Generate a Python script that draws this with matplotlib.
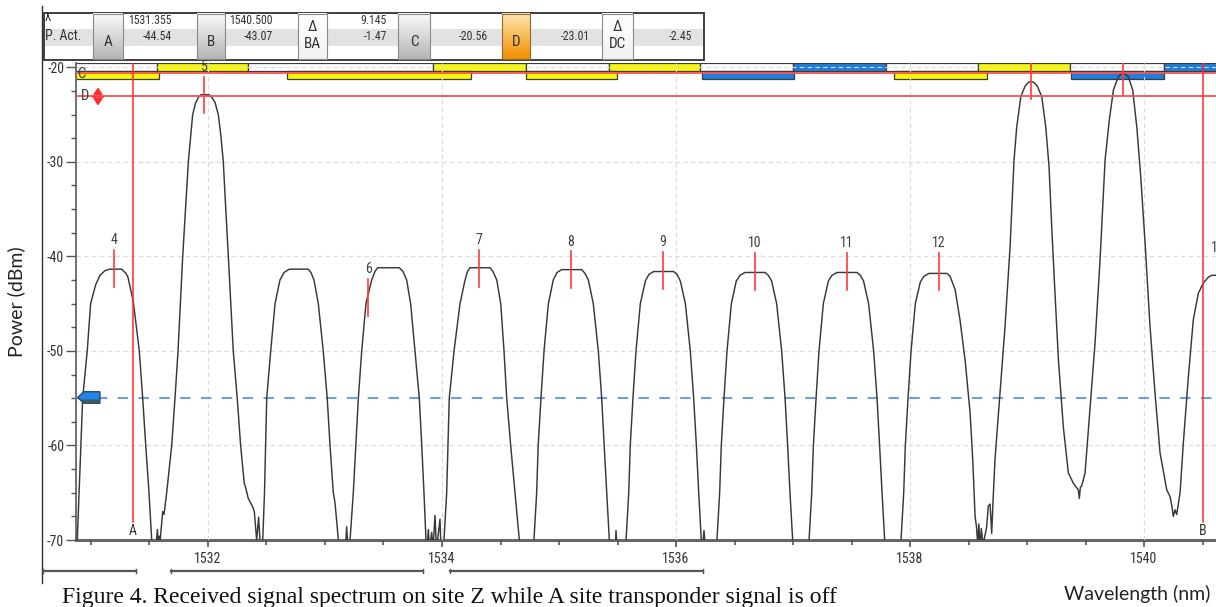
import matplotlib
matplotlib.use('Agg')
import matplotlib.pyplot as plt
from matplotlib.patches import Rectangle, Polygon
from matplotlib.colors import LinearSegmentedColormap
from matplotlib import font_manager
import numpy as np

W, H, DPI = 1216, 607, 100
_avail = {f.name for f in font_manager.fontManager.ttflist}
_narrow = next((n for n in ['Liberation Sans Narrow', 'Roboto Condensed', 'Open Sans Condensed']
                if n in _avail), None)
if _narrow:
    NARROW = [_narrow, 'DejaVu Sans']
    FS = 1.0
else:
    NARROW = ['Liberation Sans', 'DejaVu Sans']
    FS = 0.88

# ---------------- data ----------------
peak4 = [(1530.860,-71),(1530.883,-70),(1530.929,-55),(1530.968,-50),(1530.997,-45),(1531.040,-43.0),
         (1531.077,-42.0),(1531.120,-41.5),(1531.162,-41.35),(1531.262,-41.35),(1531.299,-41.8),(1531.316,-42.2),
         (1531.362,-44.8),(1531.413,-50),(1531.442,-55),(1531.468,-60),(1531.496,-65),(1531.519,-70),(1531.530,-71),
         (1531.556,-70.5),(1531.568,-68.9),(1531.577,-71),(1531.584,-69.6),(1531.590,-70.2)]
peak5 = [(1531.613,-67),(1531.624,-67.3),(1531.647,-65),(1531.690,-60),(1531.718,-55),(1531.744,-50),(1531.764,-45),
         (1531.784,-40),(1531.808,-35),(1531.832,-30),(1531.869,-25),(1531.893,-23.8),(1531.917,-23.2),(1531.940,-22.9),
         (1532.009,-22.9),(1532.034,-23.2),(1532.060,-23.7),(1532.088,-25),(1532.110,-27.2),(1532.131,-30),(1532.152,-35),
         (1532.174,-40),(1532.195,-45),(1532.216,-50),(1532.250,-55),(1532.279,-60),(1532.310,-64),(1532.325,-64.6),
         (1532.344,-65.6),(1532.382,-66.5),(1532.396,-67),(1532.416,-70),(1532.433,-67.6),(1532.444,-70),(1532.457,-71)]
peak_u = [(1532.468,-70),(1532.483,-65),(1532.502,-55),(1532.536,-50),(1532.573,-45),(1532.615,-42.5),(1532.650,-41.7),
          (1532.695,-41.35),(1532.857,-41.35),(1532.880,-41.7),(1532.906,-42.5),(1532.943,-45),(1532.985,-50),(1533.019,-55),
          (1533.043,-60),(1533.071,-65),(1533.085,-66),(1533.100,-68),(1533.114,-70),(1533.128,-71),(1533.175,-71),
          (1533.185,-68.6),(1533.197,-71)]
peak6 = [(1533.214,-70),(1533.242,-65),(1533.285,-55),(1533.314,-50),(1533.350,-45),(1533.399,-42.5),(1533.427,-41.6),
         (1533.450,-41.2),(1533.635,-41.2),(1533.667,-41.6),(1533.698,-42.5),(1533.732,-45),(1533.769,-50),(1533.806,-55),
         (1533.827,-60),(1533.846,-65),(1533.863,-70),(1533.872,-71),(1533.883,-68.9),(1533.894,-71),(1533.912,-69.2),
         (1533.923,-71),(1533.940,-67.4),(1533.953,-71),(1533.983,-67.8),(1533.991,-71),(1534.005,-71)]
peak7 = [(1534.017,-70),(1534.040,-65),(1534.062,-55),(1534.103,-50),(1534.154,-45),(1534.197,-42.5),(1534.218,-41.6),
         (1534.239,-41.2),(1534.410,-41.2),(1534.436,-41.6),(1534.468,-42.5),(1534.502,-45),(1534.530,-50),(1534.553,-55),
         (1534.587,-60),(1534.624,-65),(1534.661,-70),(1534.671,-71)]
peak8 = [(1534.778,-71),(1534.786,-70),(1534.809,-65),(1534.822,-60),(1534.846,-55),(1534.872,-50),(1534.909,-45),
         (1534.951,-42.5),(1534.983,-41.7),(1535.023,-41.4),(1535.194,-41.4),(1535.222,-41.8),(1535.251,-42.5),
         (1535.293,-45),(1535.336,-50),(1535.365,-55),(1535.386,-60),(1535.408,-65),(1535.430,-70),(1535.440,-71),
         (1535.483,-71),(1535.487,-69),(1535.496,-71)]
peak9 = [(1535.564,-71),(1535.573,-70),(1535.596,-65),(1535.609,-60),(1535.632,-55),(1535.658,-50),(1535.695,-45),
         (1535.738,-42.6),(1535.769,-41.9),(1535.809,-41.6),(1535.980,-41.6),(1536.009,-41.9),(1536.037,-42.6),
         (1536.080,-45),(1536.122,-50),(1536.151,-55),(1536.174,-60),(1536.194,-65),(1536.216,-70),(1536.226,-71),
         (1536.239,-69),(1536.252,-71)]
peak10 = [(1536.342,-71),(1536.350,-70),(1536.373,-65),(1536.387,-60),(1536.410,-55),(1536.436,-50),(1536.473,-45),
          (1536.515,-42.6),(1536.547,-42.0),(1536.590,-41.7),(1536.761,-41.7),(1536.789,-42.0),(1536.817,-42.6),
          (1536.860,-45),(1536.903,-50),(1536.932,-55),(1536.954,-60),(1536.974,-65),(1536.997,-70),(1537.009,-71)]
peak11 = [(1537.128,-71),(1537.137,-70),(1537.160,-65),(1537.174,-60),(1537.197,-55),(1537.222,-50),(1537.259,-45),
          (1537.302,-42.6),(1537.333,-42.0),(1537.376,-41.7),(1537.547,-41.7),(1537.575,-42.0),(1537.603,-42.6),
          (1537.646,-45),(1537.689,-50),(1537.718,-55),(1537.740,-60),(1537.761,-65),(1537.783,-70),(1537.795,-71)]
peak12 = [(1537.915,-71),(1537.923,-70),(1537.946,-65),(1537.960,-60),(1537.983,-55),(1538.009,-50),(1538.045,-45),
          (1538.088,-42.7),(1538.120,-42.1),(1538.162,-41.8),(1538.316,-41.8),(1538.342,-42.1),(1538.385,-43.5),
          (1538.427,-46.7),(1538.470,-50.9),(1538.513,-56.5),(1538.536,-61.5),(1538.556,-67.5),(1538.568,-68.6),
          (1538.579,-70.5),(1538.588,-68.3),(1538.600,-71),(1538.609,-68.8),(1538.625,-70.5)]
peaks_high = [(1538.655,-68.6),(1538.669,-66.4),(1538.684,-66.2),(1538.698,-69.3),(1538.709,-66),(1538.726,-61.5),
              (1538.769,-54.4),(1538.812,-47.4),(1538.855,-39),(1538.889,-29.8),(1538.912,-26.3),(1538.947,-23.1),
              (1538.983,-22),(1539.010,-21.6),(1539.034,-21.5),(1539.060,-21.6),(1539.088,-22),(1539.126,-23.1),
              (1539.160,-26.3),(1539.188,-30.5),(1539.211,-36.9),(1539.239,-43.9),(1539.268,-50.9),(1539.310,-58),
              (1539.353,-62.9),(1539.396,-64),(1539.438,-64.7),(1539.447,-65.6),(1539.456,-64.4),(1539.467,-64.3),
              (1539.496,-62.9),(1539.538,-56.2),(1539.581,-49.2),(1539.624,-40.4),(1539.667,-29.8),(1539.703,-25.6),
              (1539.738,-22.4),(1539.780,-21),(1539.800,-20.75),(1539.823,-20.7),(1539.845,-20.75),(1539.866,-21),
              (1539.903,-22.4),(1539.938,-26.3),(1539.972,-31.6),(1540.009,-38.6),(1540.051,-47.4),(1540.094,-54.5),
              (1540.137,-60.8),(1540.194,-64.7),(1540.222,-65.4),(1540.239,-66.5),(1540.250,-67.5),(1540.265,-66.8),
              (1540.279,-67.3),(1540.308,-65),(1540.336,-59.7),(1540.379,-52.7),(1540.421,-46.7),(1540.464,-43.9),
              (1540.507,-42.8),(1540.550,-42.2),(1540.580,-42.0),(1540.700,-42.0)]

marker_labels = ['4', '5', '6', '7', '8', '9', '10', '11', '12', '', '', '13']
marker_wl = [1531.197, 1531.966, 1533.368, 1534.316, 1535.100, 1535.889, 1536.675, 1537.462, 1538.248,
             1539.034, 1539.820, 1540.630]
marker_db = [-41.3, -22.93, -44.33, -41.28, -41.43, -41.5, -41.6, -41.6, -41.6, -21.43, -21.0, -42.1]

cursor_a_wl, cursor_b_wl = 1531.355, 1540.500
cursor_c_db, cursor_d_db = -20.56, -23.01
threshold_db = -55

row1_start = [1530.780, 1531.562, 1532.344, 1533.920, 1534.715, 1535.430, 1536.208, 1537.003, 1537.797, 1538.584, 1539.370, 1540.168]
row1_end   = [1531.562, 1532.344, 1533.920, 1534.715, 1535.430, 1536.208, 1537.003, 1537.797, 1538.584, 1539.370, 1540.168, 1540.900]
row1_kind  = ['w', 'y', 'w', 'y', 'w', 'y', 'w', 'b', 'w', 'y', 'w', 'b']
row2_start = [1530.780, 1532.673, 1534.715, 1536.222, 1537.863, 1539.374]
row2_end   = [1531.581, 1534.250, 1535.498, 1537.011, 1538.658, 1540.168]
row2_kind  = ['y', 'y', 'y', 'b', 'y', 'b']

x_major = [1532, 1534, 1536, 1538, 1540]
x_minor = [1531.0, 1531.5, 1532.5, 1533.0, 1533.5, 1534.5, 1535.0, 1535.5, 1536.5, 1537.0, 1537.5,
           1538.5, 1539.0, 1539.5, 1540.5]
y_major = [-70, -60, -50, -40, -30, -20]
y_minor = [-67.5, -65, -62.5, -57.5, -55, -52.5, -47.5, -45, -42.5, -37.5, -35, -32.5, -27.5, -25, -22.5]

table_row1 = {'A': '1531.355', 'B': '1540.500', 'BA': '9.145'}
table_row2 = {'A': '-44.54', 'B': '-43.07', 'BA': '-1.47', 'C': '-20.56', 'D': '-23.01', 'DC': '-2.45'}

BAR_COL = {'w': '#ffffff', 'y': '#f8f800', 'b': '#1f7fdc'}

# ---------------- figure ----------------
fig = plt.figure(figsize=(W / DPI, H / DPI), dpi=DPI)
fig.patch.set_facecolor('white')
ax = fig.add_axes([76 / W, (H - 540) / H, (W - 76) / W, (540 - 62.7) / H])
ov = fig.add_axes([0, 0, 1, 1], zorder=5)
ov.patch.set_alpha(0)

ax.set_xlim(1530.872, 1540.615)
ax.set_ylim(-70, -19.51)

# channel bars
for s, e, k in zip(row1_start, row1_end, row1_kind):
    ax.add_patch(Rectangle((s, -20.39), e - s, 0.84, facecolor=BAR_COL[k], edgecolor='#3c3c3c', lw=0.9, zorder=1))
for s, e, k in zip(row2_start, row2_end, row2_kind):
    ax.add_patch(Rectangle((s, -21.27), e - s, 0.88, facecolor=BAR_COL[k], edgecolor='#3c3c3c', lw=0.9, zorder=1))

# trace
trace = peak4 + peak5 + peak_u + peak6 + peak7 + peak8 + peak9 + peak10 + peak11 + peak12 + peaks_high
ax.plot([p[0] for p in trace], [p[1] for p in trace], color='#383838', lw=1.05, zorder=3,
        solid_joinstyle='round')

# threshold
ax.axhline(threshold_db, color='#6e9fd6', lw=1.5, ls=(0, (5, 5)), zorder=2.6)

# cursors
ax.axhline(cursor_c_db, color='#ff5050', lw=1.3, zorder=4)
ax.axhline(cursor_d_db, color='#ff5050', lw=1.3, zorder=4)
for wl, lab in ((cursor_a_wl, 'A'), (cursor_b_wl, 'B')):
    ax.plot([wl, wl], [-68.1, -19.51], color='#ff2a2a', lw=1.1, zorder=4)
    ax.text(wl, -69.05, lab, ha='center', va='center', fontsize=10 * FS, color='#333333', family=NARROW, zorder=5)

# peak markers
for wl, db, lab in zip(marker_wl, marker_db, marker_labels):
    ax.plot([wl, wl], [db - 1.95, db + 1.95], color='#ff3b3b', lw=1.2, zorder=4)
    if lab:
        ax.text(wl, db + 3.0, lab, ha='center', va='center', fontsize=10 * FS, color='#404040',
                family=NARROW, zorder=5, clip_on=False)

# axes styling
ax.set_xticks(x_major)
ax.set_xticks(x_minor, minor=True)
ax.set_yticks(y_major)
ax.set_yticks(y_minor, minor=True)
ax.set_xticklabels([str(v) for v in x_major], family=NARROW)
ax.set_yticklabels([str(v) for v in y_major], family=NARROW)
ax.tick_params(axis='y', which='major', length=7.5, width=1, color='#555555', labelsize=10 * FS,
               labelcolor='#333333', pad=1)
ax.tick_params(axis='y', which='minor', length=3.6, width=1, color='#555555')
ax.tick_params(axis='x', which='major', length=4.8, width=1.2, color='#555555', labelsize=10 * FS,
               labelcolor='#333333', pad=4)
ax.tick_params(axis='x', which='minor', length=3.8, width=1.2, color='#555555')
for sp in ('top', 'right'):
    ax.spines[sp].set_visible(False)
ax.spines['left'].set_color('#707070')
ax.spines['left'].set_linewidth(1.4)
ax.spines['bottom'].set_color('#666666')
ax.spines['bottom'].set_linewidth(2.2)
ax.set_axisbelow(False)
ax.grid(True, which='major', color='#dadada', lw=0.8, ls=(0, (4, 3)))

# ---------------- overlay (pixel coordinates) ----------------
def grad_rect(x0, y0, x1, y1, ctop, cbot, edge):
    cmap = LinearSegmentedColormap.from_list('g', [ctop, cbot])
    grad = np.linspace(0, 1, 64).reshape(-1, 1)
    ov.imshow(grad, cmap=cmap, extent=(x0, x1, y1, y0), aspect='auto', zorder=3, interpolation='bilinear')
    ov.add_patch(Rectangle((x0, y0), x1 - x0, y1 - y0, fill=False, edgecolor=edge, lw=0.8, zorder=4))

# frame line
ov.plot([42, 42], [6, 583], color='#303030', lw=1.0, zorder=2)

# table
ov.add_patch(Rectangle((43.5, 12.7), 704 - 43.5, 60 - 12.7, facecolor='white', edgecolor='#303030', lw=1.3, zorder=1))
ov.add_patch(Rectangle((44.5, 28.5), 703 - 44.5, 17, facecolor='#e2e2e2', edgecolor='none', zorder=1.5))
buttons = [(93.3, 123.3, 'A', 'g'), (197, 225, 'B', 'g'), (298, 327, 'BA', 'w'),
           (398, 430, 'C', 'g'), (502, 530, 'D', 'o'), (602, 633, 'DC', 'w')]
for x0, x1, name, kind in buttons:
    if kind == 'g':
        grad_rect(x0, 13.5, x1, 59.3, '#fbfbfb', '#b4b4b4', '#8a8a8a')
    elif kind == 'o':
        grad_rect(x0, 13.5, x1, 59.3, '#ffe6b0', '#f39000', '#8a6a30')
    else:
        grad_rect(x0, 13.5, x1, 59.3, '#ffffff', '#f2f2f2', '#8a8a8a')
    xc = (x0 + x1) / 2
    if len(name) == 1:
        ov.text(xc, 42, name, ha='center', va='center', fontsize=11 * FS, color='#333333', family=NARROW, zorder=6)
    else:
        ov.text(xc, 27, '\u0394', ha='center', va='center', fontsize=11 * FS, color='#333333', family=NARROW, zorder=6)
        ov.text(xc, 44.5, name, ha='center', va='center', fontsize=11 * FS, color='#333333', family=NARROW, zorder=6)

ov.text(45, 17, '\u03bb', ha='left', va='center', fontsize=9.5 * FS, color='#333333', family=NARROW, zorder=6)
ov.text(45, 36, 'P. Act.', ha='left', va='center', fontsize=10 * FS, color='#333333', family=NARROW, zorder=6)
right_edge = {'A': 172, 'B': 273, 'BA': 387, 'C': 488, 'D': 590, 'DC': 692}
for k, v in table_row1.items():
    ov.text(right_edge[k], 21, v, ha='right', va='center', fontsize=8.5 * FS, color='#333333', family=NARROW, zorder=6)
for k, v in table_row2.items():
    ov.text(right_edge[k], 37, v, ha='right', va='center', fontsize=8.5 * FS, color='#333333', family=NARROW, zorder=6)

# C / D cursor tags
ov.text(81, 73.5, 'C', ha='center', va='center', fontsize=10.5 * FS, color='#404040', family=NARROW, zorder=6)
ov.text(84.5, 96.5, 'D', ha='center', va='center', fontsize=10.5 * FS, color='#404040', family=NARROW, zorder=6)
ov.add_patch(Polygon([(94, 94.5), (98, 88.5), (102, 94.5)], closed=True, color='#ff3030', zorder=6))
ov.add_patch(Polygon([(94, 98.5), (98, 104.5), (102, 98.5)], closed=True, color='#ff3030', zorder=6))
ov.plot([93, 103], [96.5, 96.5], color='#ff3030', lw=1.2, zorder=6)

# threshold arrow tag
ov.add_patch(Polygon([(77.5, 397.5), (84, 391.7), (100, 391.7), (100, 403.3), (84, 403.3)], closed=True,
                     facecolor='#1f86e8', edgecolor='#2c4050', lw=0.9, zorder=6))
ov.add_patch(Polygon([(80, 399.5), (84.5, 403.3), (100, 403.3), (100, 399.5)], closed=True,
                     facecolor='#3e5866', edgecolor='none', zorder=6))

# scroll bars below axis
for x0, x1 in ((42.7, 135.7), (170.6, 422.6), (449.8, 703.4)):
    ov.plot([x0, x1], [571, 571], color='#555555', lw=1.6, zorder=2)
    ov.plot([x0, x0], [569, 573], color='#555555', lw=1.0, zorder=2)
    ov.plot([x1, x1], [569, 573], color='#555555', lw=1.0, zorder=2)

# axis titles and caption
ov.text(16, 302, 'Power (dBm)', rotation=90, ha='center', va='center', fontsize=14, color='#222222',
        family=['Lato', 'DejaVu Sans'])
ov.text(1137, 594, 'Wavelength (nm)', ha='center', va='center', fontsize=14, color='#222222',
        family=['Lato', 'DejaVu Sans'])
ov.text(62, 603, 'Figure 4. Received signal spectrum on site Z while A site transponder signal is off',
        ha='left', va='baseline', fontsize=17, color='#111111', family=['Liberation Serif', 'DejaVu Serif'])

ov.set_xlim(0, W)
ov.set_ylim(H, 0)
ov.axis('off')

fig.savefig('out.png', dpi=DPI)
